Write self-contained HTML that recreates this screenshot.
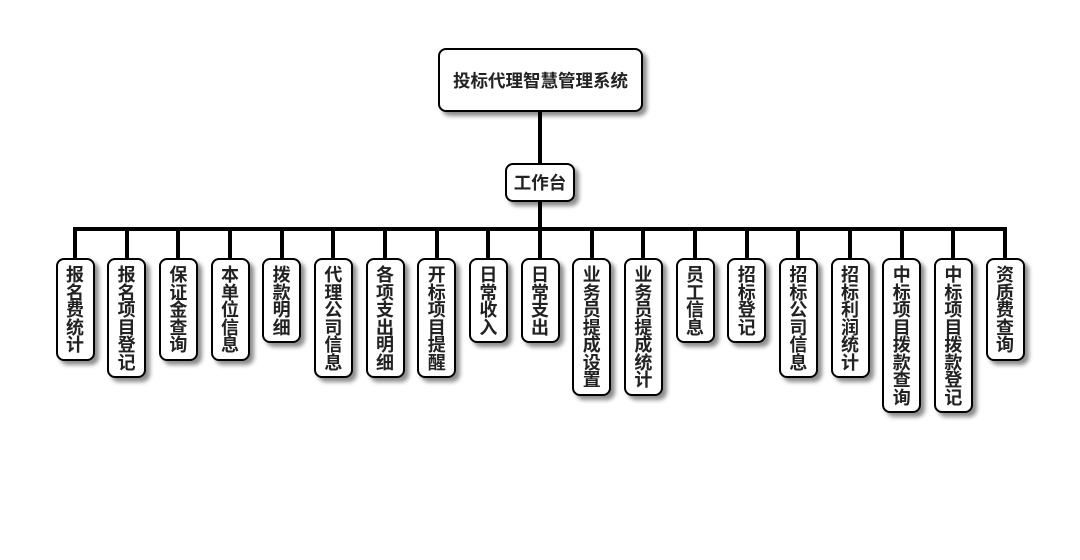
<!DOCTYPE html>
<html><head><meta charset="utf-8"><style>
body{margin:0;width:1080px;height:560px;background:#fff;position:relative;overflow:hidden;font-family:"Liberation Sans","Noto Sans CJK SC",sans-serif;font-weight:bold;color:#222}
.b{position:absolute;background:#fff;border:2px solid #000;border-radius:8px;box-sizing:border-box;box-shadow:4px 4px 4px rgba(0,0,0,0.45);display:flex;align-items:center;justify-content:center;text-align:center}
.l{position:absolute;background:#000}
.leaf{top:258px;width:39px;font-size:18px;line-height:17.5px;padding:7px 0;align-items:flex-start;word-break:break-all}
.leaf span{display:block;width:19px;margin:0 auto}
</style></head><body>
<div class="l" style="left:538px;top:112px;width:4px;height:52px"></div>
<div class="l" style="left:538px;top:202px;width:4px;height:28px"></div>
<div class="l" style="left:73px;top:227px;width:934px;height:4px"></div>
<div class="b" style="left:438px;top:48px;width:205px;height:64px;font-size:17.5px">投标代理智慧管理系统</div>
<div class="b" style="left:505px;top:163px;width:70px;height:39px;font-size:17.5px">工作台</div>
<div id="leaves"></div>
<script>
var n=["报名费统计","报名项目登记","保证金查询","本单位信息","拨款明细","代理公司信息","各项支出明细","开标项目提醒","日常收入","日常支出","业务员提成设置","业务员提成统计","员工信息","招标登记","招标公司信息","招标利润统计","中标项目拨款查询","中标项目拨款登记","资质费查询"];
var h="";
for(var i=0;i<n.length;i++){var cx=75+i*51.67;
h+='<div class="l" style="left:'+(cx-2)+'px;top:229px;width:4px;height:30px"></div>';
h+='<div class="b leaf" style="left:'+(cx-19.5)+'px;height:'+(15+n[i].length*17.5)+'px"><span>'+n[i]+'</span></div>';}
document.getElementById("leaves").innerHTML=h;
</script>
</body></html>
